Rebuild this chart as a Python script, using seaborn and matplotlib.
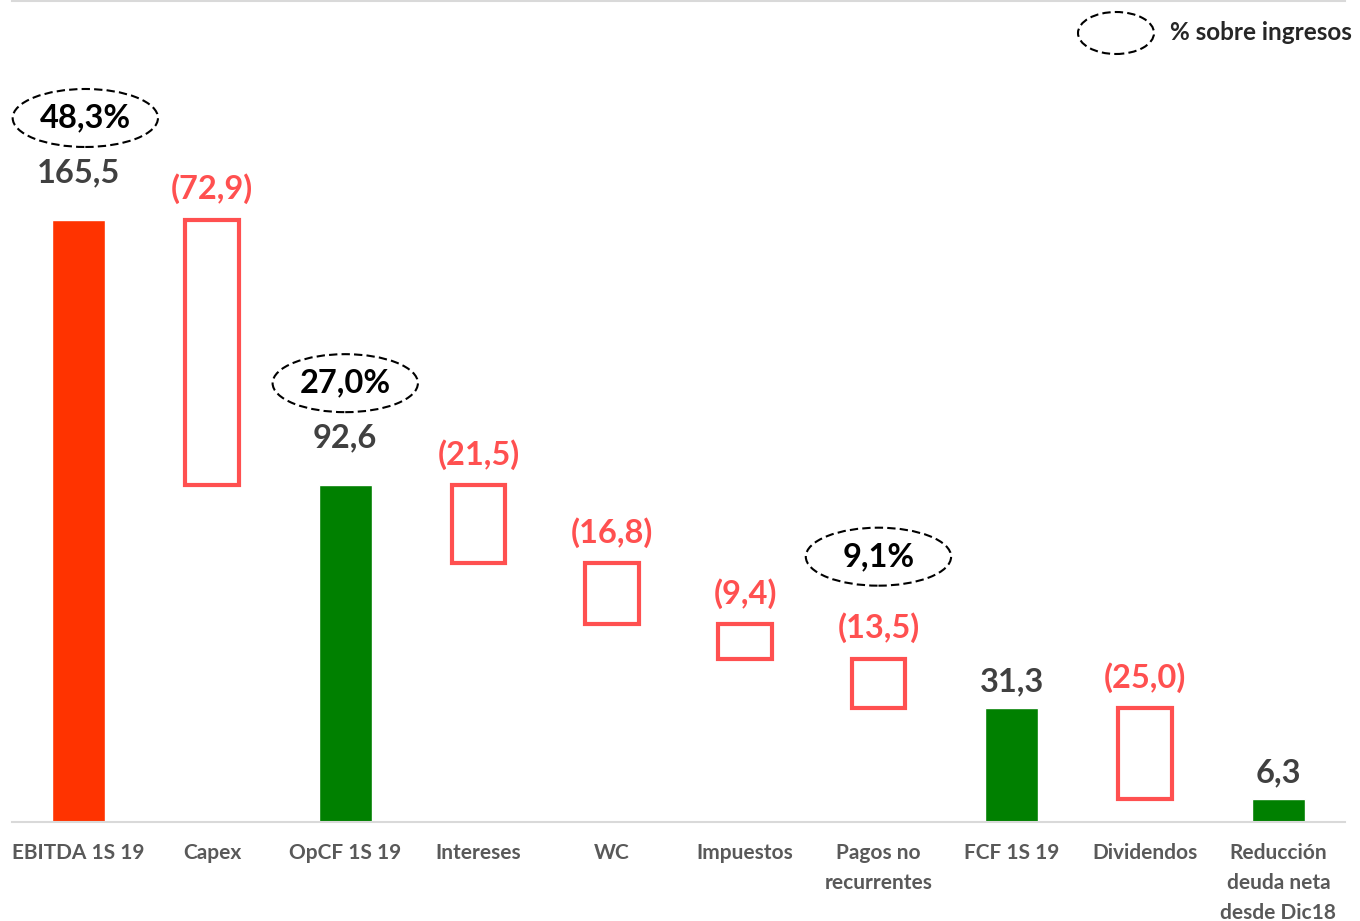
import numpy as np
import pandas as pd
import matplotlib
matplotlib.use('Agg')
import matplotlib.pyplot as plt
from matplotlib.patches import Ellipse
import seaborn as sns

sns.set_theme(style='white')
plt.rcParams['font.family'] = ['Lato', 'DejaVu Sans']
plt.rcParams['font.weight'] = 'bold'

# Data
categories = ['EBITDA 1S 19', 'Capex', 'OpCF 1S 19', 'Intereses', 'WC', 'Impuestos',
              'Pagos no\nrecurrentes', 'FCF 1S 19', 'Dividendos',
              'Reducción\ndeuda neta\ndesde Dic18']
values = [165.5, -72.9, 92.6, -21.5, -16.8, -9.4, -13.5, 31.3, -25.0, 6.3]
is_total = [True, False, True, False, False, False, False, True, False, True]
labels = ['165,5', '(72,9)', '92,6', '(21,5)', '(16,8)', '(9,4)', '(13,5)', '31,3', '(25,0)', '6,3']
pct_idx = [0, 2, 6]
pct_labels = ['48,3%', '27,0%', '9,1%']

# colours
ORANGE = '#FF3300'
GREEN = '#008000'
RED = '#FF5050'
GRAY = '#404040'
TICK = '#595959'

# running tops / bottoms for the waterfall
tops, bottoms = [], []
level = 0
for v, t in zip(values, is_total):
    if t:
        level = v
        tops.append(v); bottoms.append(0)
    else:
        tops.append(level); bottoms.append(level + v)
        level = level + v

df = pd.DataFrame({'cat': categories, 'value': values, 'top': tops,
                   'bottom': bottoms, 'total': is_total})

fig = plt.figure(figsize=(13.6, 9.21), dpi=100)
ax = fig.add_axes([12/1360, 99/921, (1345-12)/1360, (822-1)/921])

totals = df[df.total]
pal = {c: (ORANGE if i == 0 else GREEN) for i, c in enumerate(totals.cat)}
sns.barplot(data=totals, x='cat', y='value', hue='cat', palette=pal, order=categories,
            width=0.4, saturation=1, legend=False, ax=ax)

steps = df[~df.total]
for i, r in steps.iterrows():
    ax.bar(i, r.top - r.bottom, bottom=r.bottom, width=0.4, fill=False,
           edgecolor=RED, linewidth=3)

ax.set_xlim(-0.5, 9.5)
ax.set_ylim(0, 225.7)
px_per_unit = 821 / 225.7
ax.set_yticks([])
ax.set_xlabel('')
ax.set_ylabel('')
for s in ['left', 'right']:
    ax.spines[s].set_visible(False)
for s in ['top', 'bottom']:
    ax.spines[s].set_color('#D9D9D9')
    ax.spines[s].set_linewidth(1.5)

ax.set_xticks(range(len(categories)))
ax.set_xticklabels(categories, fontsize=15, fontweight='bold', color=TICK, linespacing=1.62)
ax.tick_params(axis='x', length=0, pad=15)

# value labels
for i, r in df.iterrows():
    if r.total:
        gap = 47 if i in pct_idx else 26
        col = GRAY
    else:
        gap = 31
        col = RED
    ax.annotate(labels[i], (i, r.top), xytext=(0, gap / 1.389), textcoords='offset points',
                ha='center', va='center', fontsize=23.5, fontweight='bold', color=col)

# percentage ellipses
for i, t in zip(pct_idx, pct_labels):
    cy = df.top[i] + 102 / px_per_unit
    cx = i + (0.05 if i == 0 else 0)
    ax.add_patch(Ellipse((cx, cy), 1.09, 58 / px_per_unit, fill=False, edgecolor='black',
                         linestyle=(0, (4, 2)), linewidth=1.5, clip_on=False))
    ax.text(cx, cy, t, ha='center', va='center', fontsize=23.5, fontweight='bold', color='black')

# legend
fig.add_artist(Ellipse((1116/1360, 1 - 33/921), 76/1360, 42/921, transform=fig.transFigure,
                       fill=False, edgecolor='black', linestyle=(0, (4, 2)), linewidth=1.5))
fig.text(1170/1360, 1 - 33/921, '% sobre ingresos', ha='left', va='center',
         fontsize=17.5, fontweight='bold', color='#262626')

fig.savefig('out.png', dpi=100)
